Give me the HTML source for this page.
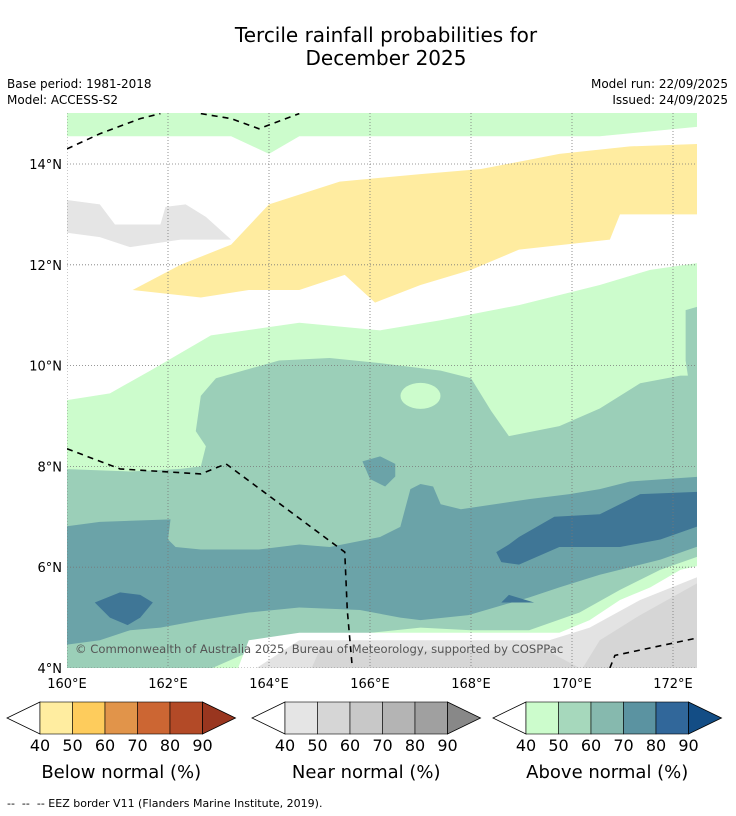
<!DOCTYPE html>
<html><head><meta charset="utf-8"><style>
body{margin:0;background:#fff;width:736px;height:816px;overflow:hidden;font-family:"Liberation Sans","DejaVu Sans",sans-serif}
svg{display:block}
</style></head><body>
<svg id="chart" width="736" height="816" viewBox="0 0 736 816" font-family="DejaVu Sans, Liberation Sans, sans-serif">
<text x="386" y="42" font-size="20" text-anchor="middle">Tercile rainfall probabilities for</text>
<text x="386" y="65" font-size="20" text-anchor="middle">December 2025</text>
<text x="7" y="88" font-size="12">Base period: 1981-2018</text>
<text x="7" y="104" font-size="12">Model: ACCESS-S2</text>
<text x="728" y="88" font-size="12" text-anchor="end">Model run: 22/09/2025</text>
<text x="728" y="104" font-size="12" text-anchor="end">Issued: 24/09/2025</text>
<defs><clipPath id="mapclip"><rect x="67" y="113" width="630" height="555"/></clipPath></defs>
<g id="map" clip-path="url(#mapclip)"></g>
<g id="axes"></g>
<g id="bars"></g>
<text x="7" y="807" font-size="11" xml:space="preserve">--  --  -- EEZ border V11 (Flanders Marine Institute, 2019).</text>
</svg>
<script>
const lonTicks=[160,162,164,166,168,170,172];
const latTicks=[4,6,8,10,12,14];
const levels=["40","50","60","70","80","90"];
const colorbarTitles=["Below normal (%)","Near normal (%)","Above normal (%)"];
const regions=[
["above-40-top","#ccfccc",[[159.9,15.1],[172.6,15.1],[172.6,14.75],[170.55,14.55],[168.95,14.55],[167.4,14.55],[164.6,14.55],[164.0,14.2],[163.25,14.55],[159.9,14.55]]],
["above-40-main","#ccfccc",[[159.9,9.3],[160.85,9.45],[161.65,9.9],[162.85,10.6],[164.6,10.85],[166.2,10.7],[167.4,10.9],[168.95,11.2],[170.55,11.6],[171.55,11.9],[172.6,12.05],[172.6,3.9],[159.9,3.9]]],
["below-40-band","#ffeca0",[[161.3,11.5],[162.25,12.0],[163.25,12.4],[164.0,13.2],[165.4,13.65],[167.0,13.8],[168.2,13.9],[169.75,14.2],[171.15,14.35],[172.6,14.4],[172.6,13.0],[170.95,13.0],[170.75,12.5],[168.95,12.3],[168.0,11.9],[167.0,11.6],[166.1,11.25],[165.5,11.8],[164.6,11.5],[163.6,11.5],[162.65,11.35],[161.3,11.5]]],
["near-40-blob","#e5e5e5",[[159.9,13.3],[160.65,13.2],[160.95,12.8],[161.85,12.8],[161.95,13.15],[162.35,13.2],[162.75,12.95],[163.25,12.5],[162.25,12.5],[161.25,12.35],[160.65,12.55],[159.9,12.65]]],
["above-50-main","#9bcfb8",[[159.9,7.95],[161.25,7.9],[162.25,7.95],[162.65,8.0],[162.75,8.4],[162.55,8.7],[162.65,9.4],[162.95,9.75],[164.2,10.1],[165.2,10.15],[166.2,10.05],[167.4,9.9],[168.0,9.75],[168.4,9.1],[168.75,8.6],[169.75,8.8],[170.55,9.15],[171.35,9.65],[172.15,9.8],[172.6,9.8],[172.6,3.9],[159.9,3.9]]],
["above-50-east","#9bcfb8",[[172.25,11.1],[172.6,11.2],[172.6,9.1],[172.4,9.1],[172.25,10.1]]],
["above-70-band","#6ba3a8",[[159.9,6.8],[160.65,6.9],[162.05,6.95],[162.0,6.55],[162.15,6.4],[162.65,6.35],[163.8,6.35],[164.6,6.45],[165.2,6.4],[166.2,6.6],[166.6,6.8],[166.8,7.55],[167.0,7.65],[167.25,7.6],[167.4,7.25],[167.8,7.15],[169.15,7.35],[169.95,7.45],[170.55,7.55],[171.15,7.7],[172.6,7.8],[172.6,6.45],[171.75,6.15],[170.55,5.85],[169.75,5.6],[169.15,5.4],[167.95,5.05],[167.0,4.95],[166.6,5.0],[165.8,5.15],[164.6,5.2],[163.6,5.1],[162.65,4.95],[161.85,4.8],[161.25,4.75],[160.65,4.55],[159.9,4.45]]],
["above-70-blob","#6ba3a8",[[165.85,8.1],[166.2,8.2],[166.5,8.05],[166.5,7.8],[166.3,7.6],[166.0,7.75]]],
["above-80-east","#3f7696",[[168.5,6.3],[168.75,6.45],[168.95,6.6],[169.65,7.0],[170.55,7.05],[171.35,7.45],[172.6,7.5],[172.6,6.85],[171.75,6.55],[170.95,6.4],[169.75,6.4],[168.95,6.05],[168.6,6.1]]],
["above-80-west","#3f7696",[[160.55,5.3],[161.05,5.5],[161.45,5.45],[161.7,5.3],[161.45,5.0],[161.2,4.85],[160.85,5.0]]],
["above-80-small","#3f7696",[[168.6,5.3],[168.75,5.45],[169.25,5.3]]],
["above-40-south","#ccfccc",[[162.65,3.9],[163.45,4.25],[164.6,4.55],[167.0,4.8],[168.0,4.75],[169.15,4.75],[170.15,5.1],[170.95,5.55],[171.75,5.95],[172.6,6.25],[172.6,3.9]]],
["white-south","#ffffff",[[163.35,3.9],[163.6,4.55],[164.6,4.7],[169.75,4.7],[170.35,4.95],[170.95,5.35],[171.55,5.6],[172.15,5.95],[172.6,6.05],[172.6,3.9]]],
["near-40-south","#e3e3e3",[[163.6,3.9],[164.6,4.55],[169.55,4.55],[170.35,4.8],[171.35,5.35],[172.6,5.85],[172.6,3.9]]],
["near-50-south","#d6d6d6",[[164.8,3.9],[165.0,4.35],[168.6,4.35],[169.5,4.35],[170.15,4.0],[170.55,3.9]]],
["near-50-se","#d6d6d6",[[170.15,3.9],[170.55,4.55],[171.35,5.05],[172.6,5.75],[172.6,3.9]]]
];
const eezLines=[
[[160,8.35],[161.05,7.95],[162.65,7.85],[163.15,8.05],[165.5,6.3],[165.55,5.15],[165.65,4.0]],
[[160,14.3],[160.65,14.6],[161.45,14.9],[161.85,15.0]],
[[162.65,15.0],[163.25,14.9],[163.8,14.7],[164.6,15.0]],
[[170.75,4.0],[170.85,4.25],[172.5,4.6]]
];
const x=lon=>67+(lon-160)*50.5;
const y=lat=>668-(lat-4)*50.4;
const NS="http://www.w3.org/2000/svg";
const map=document.getElementById('map'),axes=document.getElementById('axes'),bars=document.getElementById('bars');
function mk(tag,attrs,parent){const e=document.createElementNS(NS,tag);for(const k in attrs)e.setAttribute(k,attrs[k]);parent.appendChild(e);return e;}
regions.forEach(r=>{
 const p=mk('polygon',{points:r[2].map(q=>x(q[0])+','+y(q[1])).join(' '),fill:r[1]},map);
 
 
});
[[167,9.4,20,13,"#ccfccc","above-40-island"]].forEach(e=>{
 const el=mk('ellipse',{cx:x(e[0]),cy:y(e[1]),rx:e[2],ry:e[3],fill:e[4]},map);
 
 
});
lonTicks.forEach(t=>{
 const l=mk('line',{x1:x(t),x2:x(t),y1:113,y2:668,stroke:'#777','stroke-width':0.8,'stroke-dasharray':'1,2'},map);
 
 
 const tx=mk('text',{x:x(t),y:688,'font-size':13,'text-anchor':'middle'},axes);
 tx.textContent=t+'°E';
 
 
});
latTicks.forEach(t=>{
 const l=mk('line',{x1:67,x2:697,y1:y(t),y2:y(t),stroke:'#777','stroke-width':0.8,'stroke-dasharray':'1,2'},map);
 
 
 const tx=mk('text',{x:62,y:y(t)+5,'font-size':13,'text-anchor':'end'},axes);
 tx.textContent=t+'°N';
 
 
});
eezLines.forEach((ln,i)=>{
 const p=mk('polyline',{points:ln.map(q=>x(q[0])+','+y(q[1])).join(' '),fill:'none',stroke:'#000','stroke-width':1.6,'stroke-dasharray':'6,5'},map);
 
 
});
const cr=mk('text',{x:75,y:653,'font-size':11.6,fill:'#555'},map);
cr.textContent='© Commonwealth of Australia 2025, Bureau of Meteorology, supported by COSPPac';


const barColors=[
["#ffeda0","#fecc5c","#e1944a","#cc6633","#b34a27","#99361f"],
["#e5e5e5","#d6d6d6","#c8c8c8","#b4b4b4","#a0a0a0","#888888"],
["#ccfccc","#a6d8bc","#86b9ae","#5b93a1","#31679a","#134d85"]];
const barStart=[40,285,526],barW=162.5;
barStart.forEach((bx,i)=>{
 const g=mk('g',{},bars);
 
 
 const bw=barW/5,top=702,bot=734,mid=718;
 mk('polygon',{points:`${bx},${top} ${bx-33},${mid} ${bx},${bot}`,fill:'#fff',stroke:'#000','stroke-width':0.8},g);
 for(let k=0;k<5;k++) mk('rect',{x:bx+k*bw,y:top,width:bw,height:bot-top,fill:barColors[i][k],stroke:'#000','stroke-width':0.6},g);
 mk('polygon',{points:`${bx+barW},${top} ${bx+barW+33},${mid} ${bx+barW},${bot}`,fill:barColors[i][5],stroke:'#000','stroke-width':0.8},g);
 levels.forEach((lv,k)=>{const t=mk('text',{x:bx+k*bw,y:751,'font-size':16,'text-anchor':'middle'},g);t.textContent=lv;});
 const tt=mk('text',{x:bx+barW/2,y:778,'font-size':18,'text-anchor':'middle'},g);
 tt.textContent=colorbarTitles[i];
 
 
});
</script>
</body></html>
